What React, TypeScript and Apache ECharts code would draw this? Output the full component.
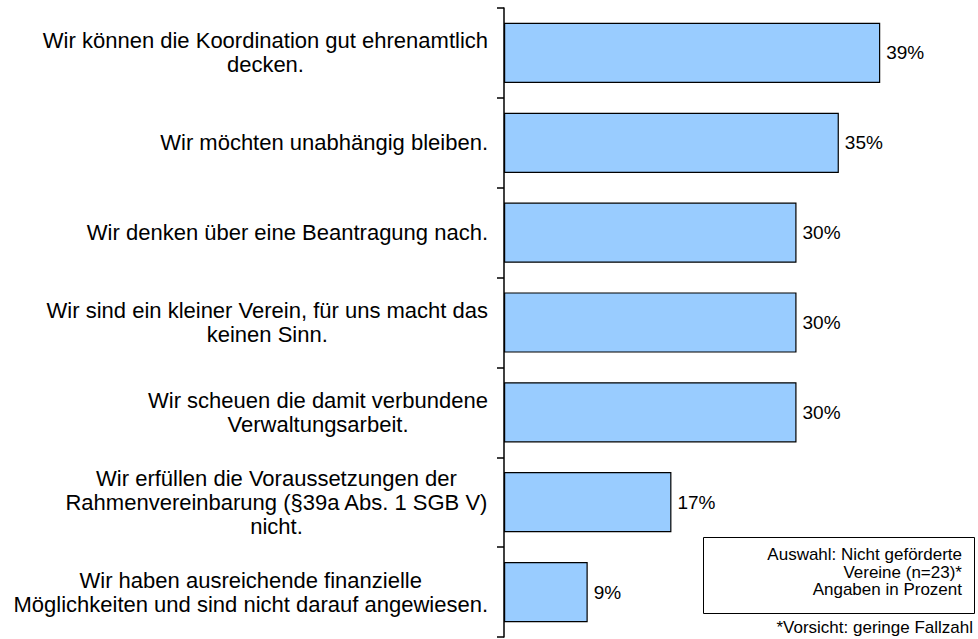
import React, { useEffect, useRef } from "react";
import * as echarts from "echarts";

const categories: string[] = [
  "Wir können die Koordination gut ehrenamtlich\ndecken.",
  "Wir möchten unabhängig bleiben.",
  "Wir denken über eine Beantragung nach.",
  "Wir sind ein kleiner Verein, für uns macht das\nkeinen Sinn.",
  "Wir scheuen die damit verbundene\nVerwaltungsarbeit.",
  "Wir erfüllen die Voraussetzungen der\nRahmenvereinbarung (§39a Abs. 1 SGB V)\nnicht.",
  "Wir haben ausreichende finanzielle\nMöglichkeiten und sind nicht darauf angewiesen.",
];
const values: number[] = [39.1, 34.8, 30.4, 30.4, 30.4, 17.4, 8.7];
const noteLines: string[] = ["Auswahl: Nicht geförderte", "Vereine (n=23)*", "Angaben in Prozent"];
const footnote = "*Vorsicht: geringe Fallzahl";

const FONT = "'Liberation Sans', Arial, Helvetica, sans-serif";

export default function App() {
  const ref = useRef<HTMLDivElement>(null);
  useEffect(() => {
    if (!ref.current) return;
    const chart = echarts.init(ref.current, undefined, { renderer: "svg" });
    chart.setOption({
      animation: false,
      backgroundColor: "#ffffff",
      grid: { left: 504, right: 41, top: 8, bottom: 2, containLabel: false },
      xAxis: {
        type: "value",
        min: 0,
        max: 45,
        show: false,
      },
      yAxis: {
        type: "category",
        inverse: true,
        data: categories,
        axisLine: { show: true, lineStyle: { color: "#000", width: 1.5 } },
        axisTick: { show: true, length: 7, lineStyle: { color: "#000", width: 1.5 } },
        axisLabel: {
          margin: 16,
          align: "right",
          fontFamily: FONT,
          fontSize: 22,
          lineHeight: 24,
          color: "#000",
          formatter: (v: string) =>
            v
              .split("\n")
              .map((l) => `{c|${l}}`)
              .join("\n"),
          rich: {
            c: { align: "center", fontFamily: FONT, fontSize: 22, lineHeight: 24, color: "#000" },
          },
        },
        splitLine: { show: false },
      },
      series: [
        {
          type: "bar",
          data: values,
          barCategoryGap: "33%",
          itemStyle: { color: "#99CCFF", borderColor: "#000", borderWidth: 1.2 },
          label: {
            show: true,
            position: "right",
            distance: 6,
            fontFamily: FONT,
            fontSize: 19,
            color: "#000",
            formatter: (p: any) => `${Math.round(p.value)}%`,
          },
        },
      ],
      graphic: [
        {
          type: "rect",
          x: 703.5,
          y: 537.5,
          shape: { width: 271, height: 76 },
          style: { fill: "#fff", stroke: "#000", lineWidth: 1 },
        },
        {
          type: "text",
          x: 962,
          y: 546,
          style: {
            text: noteLines.join("\n"),
            fontFamily: FONT,
            fontSize: 17,
            lineHeight: 17.5,
            fill: "#000",
            align: "right",
            verticalAlign: "top",
          },
        },
        {
          type: "text",
          x: 973,
          y: 619,
          style: {
            text: footnote,
            fontFamily: FONT,
            fontSize: 17,
            fill: "#000",
            align: "right",
            verticalAlign: "top",
          },
        },
      ],
    });
    return () => chart.dispose();
  }, []);
  return <div ref={ref} style={{ width: 978, height: 639, position: "absolute", left: 0, top: 0 }} />;
}
